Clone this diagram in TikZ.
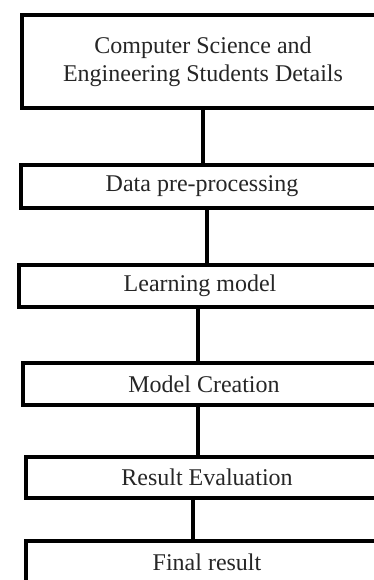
\documentclass[tikz,border=0pt]{standalone}
\usepackage{fontspec}
\setmainfont{Liberation Serif}
\usetikzlibrary{positioning}

\begin{document}
\begin{tikzpicture}[
  x=0.5pt, y=-0.5pt,
  stage/.style={draw, line width=2pt, anchor=west, minimum width=181pt,
                align=center, font=\fontsize{12}{14}\selectfont, text=black!85,
                inner sep=0pt},
  link/.style={line width=2.2pt}
]
\useasboundingbox (0,0) rectangle (374,580);
\clip (0,0) rectangle (374,580);
\node[stage, minimum height=46.5pt] (csed) at (20,61.5)
  {Computer Science and\\Engineering Students Details};
\node[stage, minimum height=21.5pt] (prep) at (19,186.5) {Data pre-processing};
\node[stage, minimum height=21pt] (learn) at (17,286) {Learning model};
\node[stage, minimum height=21pt] (create) at (21,384) {Model Creation};
\node[stage, minimum height=20.5pt] (eval) at (24,477.5) {Result Evaluation};
\node[stage, minimum height=21.5pt] (final) at (24,562.5) {Final result};
% connectors
\draw[link] (csed.south) -- (csed.south |- prep.north);
\draw[link] ([xshift=2.5pt]prep.south) -- ([xshift=2.5pt]prep.south |- learn.north);
\draw[link] ([xshift=-1pt]learn.south) -- ([xshift=-1pt]learn.south |- create.north);
\draw[link] ([xshift=-3pt]create.south) -- ([xshift=-3pt]create.south |- eval.north);
\draw[link] ([xshift=-7pt]eval.south) -- ([xshift=-7pt]eval.south |- final.north);
\end{tikzpicture}
\end{document}
